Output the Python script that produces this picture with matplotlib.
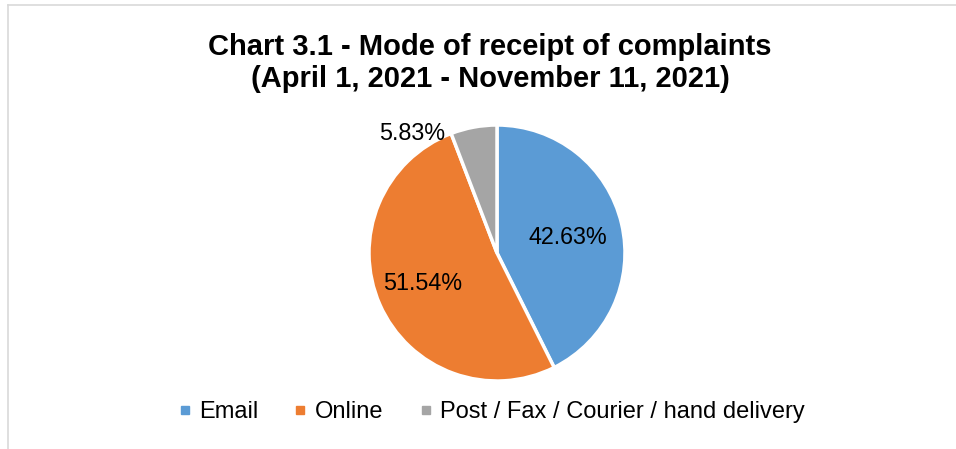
import matplotlib
matplotlib.use("Agg")
import matplotlib.pyplot as plt
from matplotlib.lines import Line2D

plt.rcParams['font.family'] = ['Liberation Sans', 'DejaVu Sans']

labels = ['Email', 'Online', 'Post / Fax / Courier / hand delivery']
shares = [42.63, 51.54, 5.83]
colors = ['#5B9BD5', '#ED7D31', '#A5A5A5']
title = 'Chart 3.1 - Mode of receipt of complaints\n(April 1, 2021 - November 11, 2021)'

W, H = 956, 449
fig = plt.figure(figsize=(W / 100, H / 100), dpi=100)

# chart frame (top and left edges only are visible)
fig.add_artist(Line2D([8 / W, 1], [1 - 5 / H, 1 - 5 / H], color='#D9D9D9', lw=1.2))
fig.add_artist(Line2D([8 / W, 8 / W], [0, 1 - 5 / H], color='#D9D9D9', lw=1.2))

cx, cy, r = 497, 253, 128
ax = fig.add_axes([(cx - r) / W, (H - cy - r) / H, 2 * r / W, 2 * r / H])
wedges, texts, autotexts = ax.pie(
    shares, colors=colors, startangle=90, counterclock=False,
    autopct='%.2f%%', pctdistance=0.6,
    wedgeprops=dict(edgecolor='white', linewidth=2.5),
    textprops=dict(fontsize=16.8, color='black'))
ax.set_xlim(-1, 1)
ax.set_ylim(-1, 1)
ax.set_aspect('auto')
ax.axis('off')

# Excel-style "best fit" label spots
autotexts[0].set_position((0.55, 0.12))
autotexts[1].set_position((-0.58, -0.24))
autotexts[2].set_position((-0.66, 0.93))

fig.text(490 / W, 1 - 63 / H, title, ha='center', va='center', fontsize=21,
         fontweight='bold', linespacing=1.2)

handles = [Line2D([], [], marker='s', color=c, linestyle='none', markersize=6)
           for c in colors]
fig.legend(handles, labels, loc='center', bbox_to_anchor=(491 / W, 1 - 412 / H),
           ncol=3, frameon=False, fontsize=17, handlelength=0.6,
           handletextpad=0.3, columnspacing=1.5)

fig.savefig('out.png', dpi=100)
